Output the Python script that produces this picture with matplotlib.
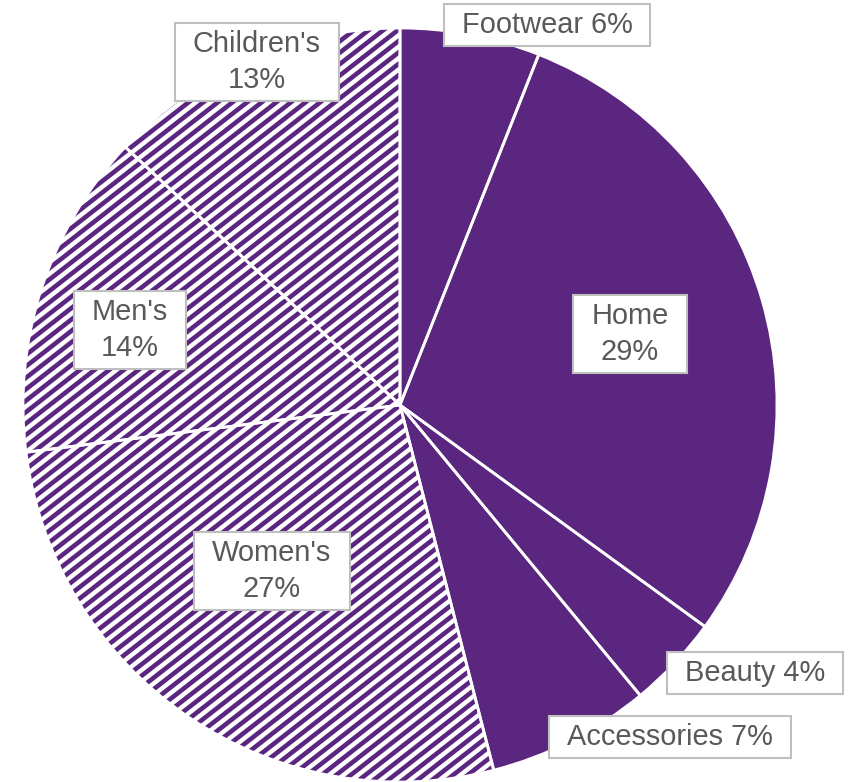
import numpy as np
import matplotlib
matplotlib.use('Agg')
import matplotlib.pyplot as plt
from matplotlib.patches import Rectangle

# данные
categories = ['Footwear', 'Home', 'Beauty', 'Accessories', "Women's", "Men's", "Children's"]
shares = [6, 29, 4, 7, 27, 14, 13]
hatched = [False, False, False, False, True, True, True]
# подписи: центр рамки (px от левого верхнего угла), одна строка или две
label_pos = [(547, 25), (630, 334), (755, 673), (670, 737), (272, 571), (130, 330), (257, 62)]
one_line = [True, False, True, True, False, False, False]

W, H = 848, 782
purple = '#5B2680'
textc = '#595959'

fig = plt.figure(figsize=(W / 100, H / 100), dpi=100)
ax = fig.add_axes([0, 0, 1, 1])

cx, cy, R = 400, H - 405, 377

faces = ['white' if h else purple for h in hatched]
wedges, _ = ax.pie(shares, colors=faces, startangle=90, counterclock=False,
                   center=(cx, cy), radius=R, frame=True,
                   wedgeprops=dict(edgecolor='none', linewidth=0))

# штриховка: наклонные полосы, обрезанные по сектору
ang = np.deg2rad(38)
step = 9 / np.cos(ang)
xs = np.array([-50, W + 50])
for w, h in zip(wedges, hatched):
    if not h:
        continue
    c = -W * np.tan(ang) - 50
    while c < H + 50:
        ln, = ax.plot(xs, xs * np.tan(ang) + c, color=purple, lw=3.3,
                      solid_capstyle='butt', zorder=2)
        ln.set_clip_path(w)
        c += step

# белые границы секторов поверх штриховки
edges, _ = ax.pie(shares, colors=['none'] * len(shares), startangle=90,
                  counterclock=False, center=(cx, cy), radius=R, frame=True,
                  wedgeprops=dict(edgecolor='white', linewidth=2.0, zorder=3))

ax.set_xlim(0, W)
ax.set_ylim(0, H)
ax.set_aspect('equal')
ax.axis('off')

texts = []
for name, s, (x, y), single in zip(categories, shares, label_pos, one_line):
    lab = f'{name} {s}%' if single else f'{name}\n{s}%'
    t = ax.text(x, H - y, lab, ha='center', va='center', fontsize=20.9,
                color=textc, family='Liberation Sans', linespacing=1.38,
                zorder=6)
    texts.append(t)

fig.canvas.draw()
padx, pady = 18, 7
for t in texts:
    bb = t.get_window_extent()
    ax.add_patch(Rectangle((bb.x0 - padx, bb.y0 - pady), bb.width + 2 * padx,
                           bb.height + 2 * pady, facecolor='white',
                           edgecolor='#BFBFBF', linewidth=1.5, zorder=5))

fig.savefig('out.png', dpi=100)
